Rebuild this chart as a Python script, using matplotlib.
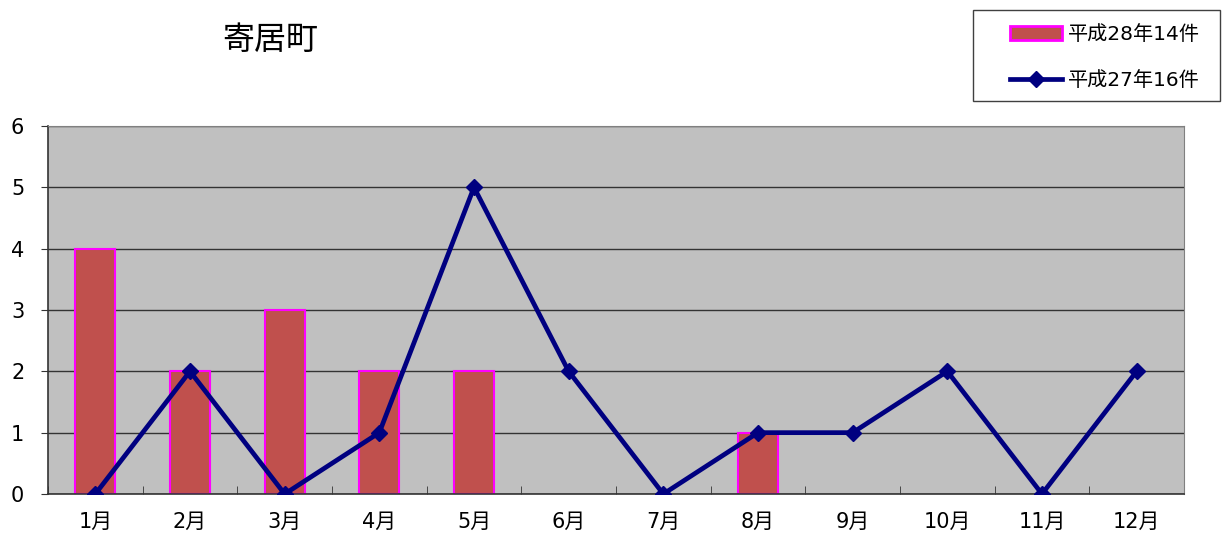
import numpy as np
import matplotlib.pyplot as plt
from matplotlib.lines import Line2D
from matplotlib.patches import Patch, Rectangle

plt.rcParams['font.family'] = ['DejaVu Sans', 'Noto Sans CJK JP']

months = ['1月', '2月', '3月', '4月', '5月', '6月', '7月', '8月', '9月', '10月', '11月', '12月']
h28 = [4, 2, 3, 2, 2, 0, 0, 1, 0, 0, 0, 0]
h27 = [0, 2, 0, 1, 5, 2, 0, 1, 1, 2, 0, 2]
label_h28 = '平成28年14件'
label_h27 = '平成27年16件'

fig = plt.figure(figsize=(12.24, 5.4), dpi=100)
ax = fig.add_axes([0.0392, 0.0852, 0.9281, 0.6815])
ax.set_facecolor('#C0C0C0')

x = np.arange(len(months))
# no outline for empty months
edges = ['#FF00FF' if v > 0 else 'none' for v in h28]
ax.bar(x, h28, width=0.42, color='#C0504D', edgecolor=edges, linewidth=1.5, zorder=2)
ax.plot(x, h27, color='#000080', linewidth=3.4, marker='D', markersize=8, zorder=3)

ax.set_xlim(-0.5, len(months) - 0.5)
ax.set_ylim(0, 6)
ax.set_yticks(range(7))
ax.yaxis.grid(True, color='#333333', linewidth=1)
ax.set_axisbelow(True)
ax.set_xticks(x)
ax.set_xticklabels(months, fontsize=15)
ax.set_xticks(np.arange(-0.5, len(months)), minor=True)
ax.tick_params(axis='x', which='major', length=0, pad=13)
ax.tick_params(axis='x', which='minor', direction='in', length=6, color='#333333')
ax.tick_params(axis='y', labelsize=15, length=5, color='#333333', pad=12)
for s in ['top', 'right']:
    ax.spines[s].set_color('#808080')
for s in ['left', 'bottom']:
    ax.spines[s].set_color('#333333')
    ax.spines[s].set_linewidth(1.2)

fig.text(0.221, 0.925, '寄居町', fontsize=23, ha='center', va='center')

# legend box drawn by hand so the padding matches the original
fig.patches.append(Rectangle((973 / 1224, 1 - 101 / 540), 247 / 1224, 91 / 540,
                             transform=fig.transFigure, facecolor='white',
                             edgecolor='#404040', linewidth=1))
handles = [Patch(facecolor='#C0504D', edgecolor='#FF00FF', linewidth=2),
           Line2D([0], [0], color='#000080', linewidth=3.4, marker='D', markersize=8)]
leg = fig.legend(handles, [label_h28, label_h27], loc='upper right',
                 bbox_to_anchor=(1200 / 1224, 1 - 25 / 540), fontsize=14.5, frameon=False,
                 handlelength=2.6, handletextpad=0.3, labelspacing=1.35,
                 borderpad=0, borderaxespad=0)

fig.savefig('out.png', dpi=100)
